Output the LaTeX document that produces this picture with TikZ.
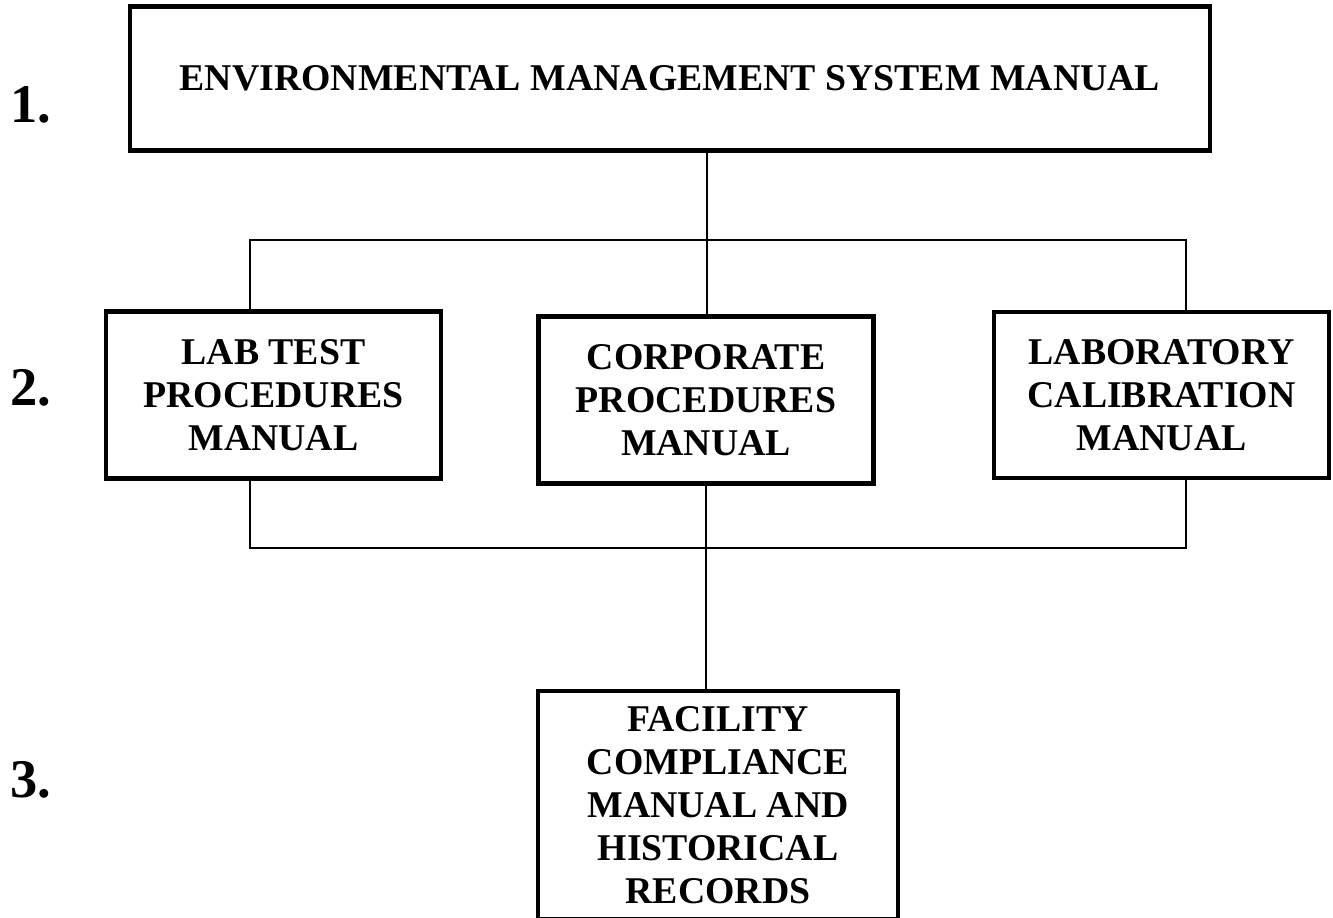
\documentclass[tikz,border=0pt]{standalone}
\usepackage{fontspec}
\setmainfont{Liberation Serif}
\usepackage{tikz}

\begin{document}
\begin{tikzpicture}[x=0.02cm, y=-0.02cm,
    box/.style={draw, line width=0.09cm, inner sep=0pt, align=center, font=\bfseries\fontsize{21.5}{24.5}\selectfont},
    num/.style={anchor=base west, inner sep=0pt, font=\bfseries\fontsize{31}{36}\selectfont},
    link/.style={line width=0.04cm}]
        \useasboundingbox (0,0) rectangle (1333,918);

        \node[box, minimum width=21.6cm, minimum height=2.88cm] (ems) at (670,78.5) {ENVIRONMENTAL MANAGEMENT SYSTEM MANUAL};
        \node[box, minimum width=6.7cm, minimum height=3.35cm] (lab) at (273.5,395) {LAB TEST\\PROCEDURES\\MANUAL};
        \node[box, minimum width=6.71cm, minimum height=3.35cm] (corp) at (706,400) {CORPORATE\\PROCEDURES\\MANUAL};
        \node[box, minimum width=6.7cm, minimum height=3.33cm] (calib) at (1161.5,395) {LABORATORY\\CALIBRATION\\MANUAL};
        \node[box, minimum width=7.2cm, minimum height=4.56cm] (fac) at (718,805) {FACILITY\\COMPLIANCE\\MANUAL AND\\HISTORICAL\\RECORDS};

        \node[num] (one) at (10,123) {1.};
        \node[num] (two) at (10,406) {2.};
        \node[num] (three) at (10,798) {3.};

        \coordinate (tl) at (250,240);
        \coordinate (tm) at (707,240);
        \coordinate (tr) at (1186,240);
        \coordinate (bl) at (250,548);
        \coordinate (bm) at (706,548);
        \coordinate (br) at (1186,548);

        \draw[link] (tl |- lab.north) -- (tl) -- (tr) -- (tr |- calib.north);
        \draw[link] (tm |- ems.south) -- (tm |- corp.north);
        \draw[link] (bl |- lab.south) -- (bl) -- (br) -- (br |- calib.south);
        \draw[link] (bm |- corp.south) -- (bm |- fac.north);
\end{tikzpicture}
\end{document}
